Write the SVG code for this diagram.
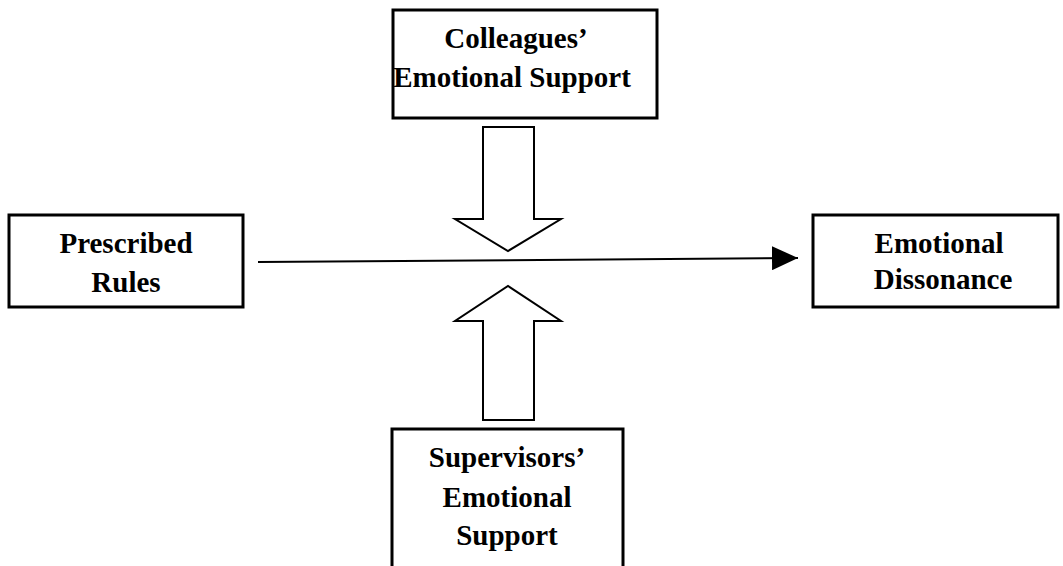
<svg xmlns="http://www.w3.org/2000/svg" width="1063" height="566" viewBox="0 0 1063 566">
<style>
.box{fill:#fff;stroke:#000;stroke-width:3}
.blk{fill:#fff;stroke:#000;stroke-width:2}
text{font-family:"Liberation Serif","Times New Roman",serif;font-weight:bold;font-size:29px;fill:#000;text-anchor:middle}
</style>
<defs>
<marker id="ah" markerUnits="userSpaceOnUse" markerWidth="28" markerHeight="24" refX="26" refY="12" orient="auto">
<path d="M0,0 L26,12 L0,24 Z" fill="#000"/>
</marker>
</defs>
<rect width="1063" height="566" fill="#fff"/>
<g id="colleagues">
<rect class="box" x="393" y="10" width="264" height="108"/>
<text x="516" y="48">Colleagues’</text>
<text x="512" y="87">Emotional Support</text>
</g>
<g id="prescribed">
<rect class="box" x="9" y="215" width="234" height="92"/>
<text x="126" y="253">Prescribed</text>
<text x="126" y="292">Rules</text>
</g>
<g id="dissonance">
<rect class="box" x="813" y="215" width="245" height="92"/>
<text x="939" y="253">Emotional</text>
<text x="943" y="289">Dissonance</text>
</g>
<g id="supervisors">
<rect class="box" x="392" y="429" width="231" height="150"/>
<text x="507" y="467">Supervisors’</text>
<text x="507" y="507">Emotional</text>
<text x="507" y="545">Support</text>
</g>
<g id="connectors">
<line x1="258" y1="262" x2="798" y2="258" stroke="#000" stroke-width="2" marker-end="url(#ah)"/>
<path class="blk" d="M483,127 L534,127 L534,219 L561,219 L508,251 L455,219 L483,219 Z"/>
<path class="blk" d="M483,420 L534,420 L534,321 L561,321 L508,286 L455,321 L483,321 Z"/>
</g>
</svg>
